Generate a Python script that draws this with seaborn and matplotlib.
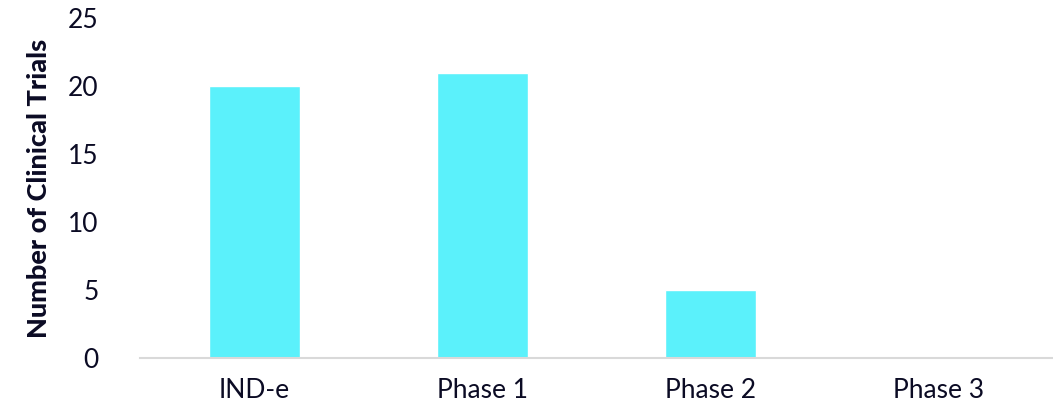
import matplotlib
matplotlib.use("Agg")
import matplotlib.pyplot as plt
import pandas as pd
import seaborn as sns

# chart data
phases = ["IND-e", "Phase 1", "Phase 2", "Phase 3"]
trial_counts = [20, 21, 5, 0]

df = pd.DataFrame({"phase": phases, "trials": trial_counts})

sns.set_style("white")
plt.rcParams["font.family"] = ["Lato", "DejaVu Sans"]

text_color = "#0b0b24"
bar_color = "#5bf1fb"

fig = plt.figure(figsize=(10.53, 4.13), dpi=100)
ax = fig.add_axes([0.133, 0.133, 0.867, 0.823])

sns.barplot(data=df, x="phase", y="trials", color=bar_color, width=0.4,
            saturation=1, ax=ax)

ax.set_ylim(0, 25)
ax.set_yticks([0, 5, 10, 15, 20, 25])
ax.set_xlim(-0.5, 3.5)

# only the baseline stays
for side in ["top", "right", "left"]:
    ax.spines[side].set_visible(False)
ax.spines["bottom"].set_color("#d9d9d9")
ax.spines["bottom"].set_linewidth(1.5)

ax.tick_params(axis="both", length=0, labelsize=19, colors=text_color)
ax.tick_params(axis="x", pad=14)
ax.tick_params(axis="y", pad=30)

ax.set_xlabel("")
ax.set_ylabel("Number of Clinical Trials", fontsize=19.5, fontweight="black",
              color=text_color, labelpad=12)

fig.savefig("out.png", dpi=100)
